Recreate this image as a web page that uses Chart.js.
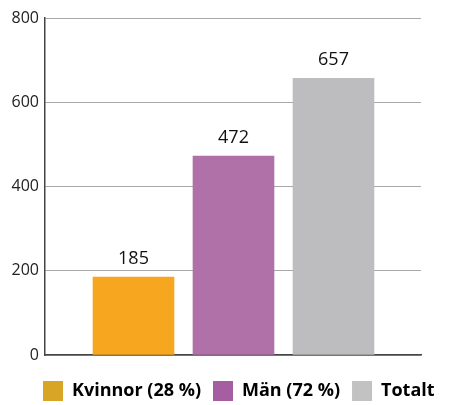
<!DOCTYPE html>
<html>
<head>
<meta charset="utf-8">
<script src="https://cdn.jsdelivr.net/npm/chart.js@4"></script>
<style>
  html, body { margin: 0; padding: 0; background: #fff; }
  #wrap { width: 449px; height: 405px; }
</style>
</head>
<body>
<div id="wrap"><canvas id="chart" width="449" height="405"></canvas></div>
<script>
// data
const categories = ['Kvinnor (28 %)', 'Män (72 %)', 'Totalt'];
const values = [185, 472, 657];
const positions = [1, 2, 3];
const barColors = ['#F6A71F', '#B071A8', '#BDBDC0'];
const legendColors = ['#D9A527', '#A55EA0', '#C2C2C2'];
const yTicks = [0, 200, 400, 600, 800];

const datasets = categories.map((name, i) => ({
    label: name,
    data: [{ x: positions[i], y: values[i] }],
    backgroundColor: barColors[i],
    barThickness: 81,
    grouped: false,
}));

// value labels over the bars
const valueLabels = {
    id: 'valueLabels',
    afterDatasetsDraw(chart) {
        const ctx = chart.ctx;
        ctx.save();
        ctx.font = '18px "Open Sans"';
        ctx.fillStyle = '#111';
        ctx.textAlign = 'center';
        ctx.textBaseline = 'alphabetic';
        chart.data.datasets.forEach((ds, i) => {
            const bar = chart.getDatasetMeta(i).data[0];
            ctx.fillText(String(ds.data[0].y), bar.x, bar.y - 13);
        });
        ctx.restore();
    }
};

// legend sits low, one line, starting under the y axis
const legendPlace = {
    id: 'legendPlace',
    beforeInit(chart) {
        const lg = chart.legend;
        if (!lg) return;
        const fit = lg.fit;
        lg.fit = function () {
            this.maxWidth = chart.width + 40;
            fit.call(this);
            this.height -= 10;
        };
    },
    afterLayout(chart) {
        if (!chart.legend) return;
        chart.legend.left = 31;
        chart.legend.right = chart.width + 40;
    }
};

new Chart(document.getElementById('chart').getContext('2d'), {
    type: 'bar',
    data: { datasets: datasets },
    options: {
        responsive: false,
        animation: false,
        layout: { padding: { top: 18, right: 28, bottom: 4, left: 0 } },
        plugins: {
            tooltip: { enabled: false },
            legend: {
                position: 'bottom',
                align: 'start',
                labels: {
                    boxWidth: 20,
                    boxHeight: 20,
                    padding: 12,
                    color: '#111',
                    font: { family: 'Open Sans', size: 18, weight: 'bold' },
                    generateLabels: (chart) => categories.map((name, i) => ({
                        text: name,
                        fillStyle: legendColors[i],
                        strokeStyle: legendColors[i],
                        lineWidth: 0,
                        datasetIndex: i,
                    })),
                },
            },
        },
        scales: {
            x: {
                type: 'linear',
                offset: false,
                bounds: 'data',
                min: 0.115,
                max: 3.875,
                afterFit: (scale) => { scale.height = 14; },
                ticks: { display: false },
                grid: { display: false, drawTicks: false },
                border: { color: '#444', width: 1.5 },
            },
            y: {
                min: 0,
                max: 800,
                afterBuildTicks: (scale) => { scale.ticks = yTicks.map(v => ({ value: v })); },
                afterFit: (scale) => { scale.width = 45; },
                ticks: {
                    padding: 6,
                    color: '#222',
                    font: { family: 'Open Sans', size: 16 },
                },
                grid: { color: '#A8A8A8', drawTicks: false },
                border: { color: '#444', width: 1.5 },
            },
        },
    },
    plugins: [valueLabels, legendPlace],
});
</script>
</body>
</html>
